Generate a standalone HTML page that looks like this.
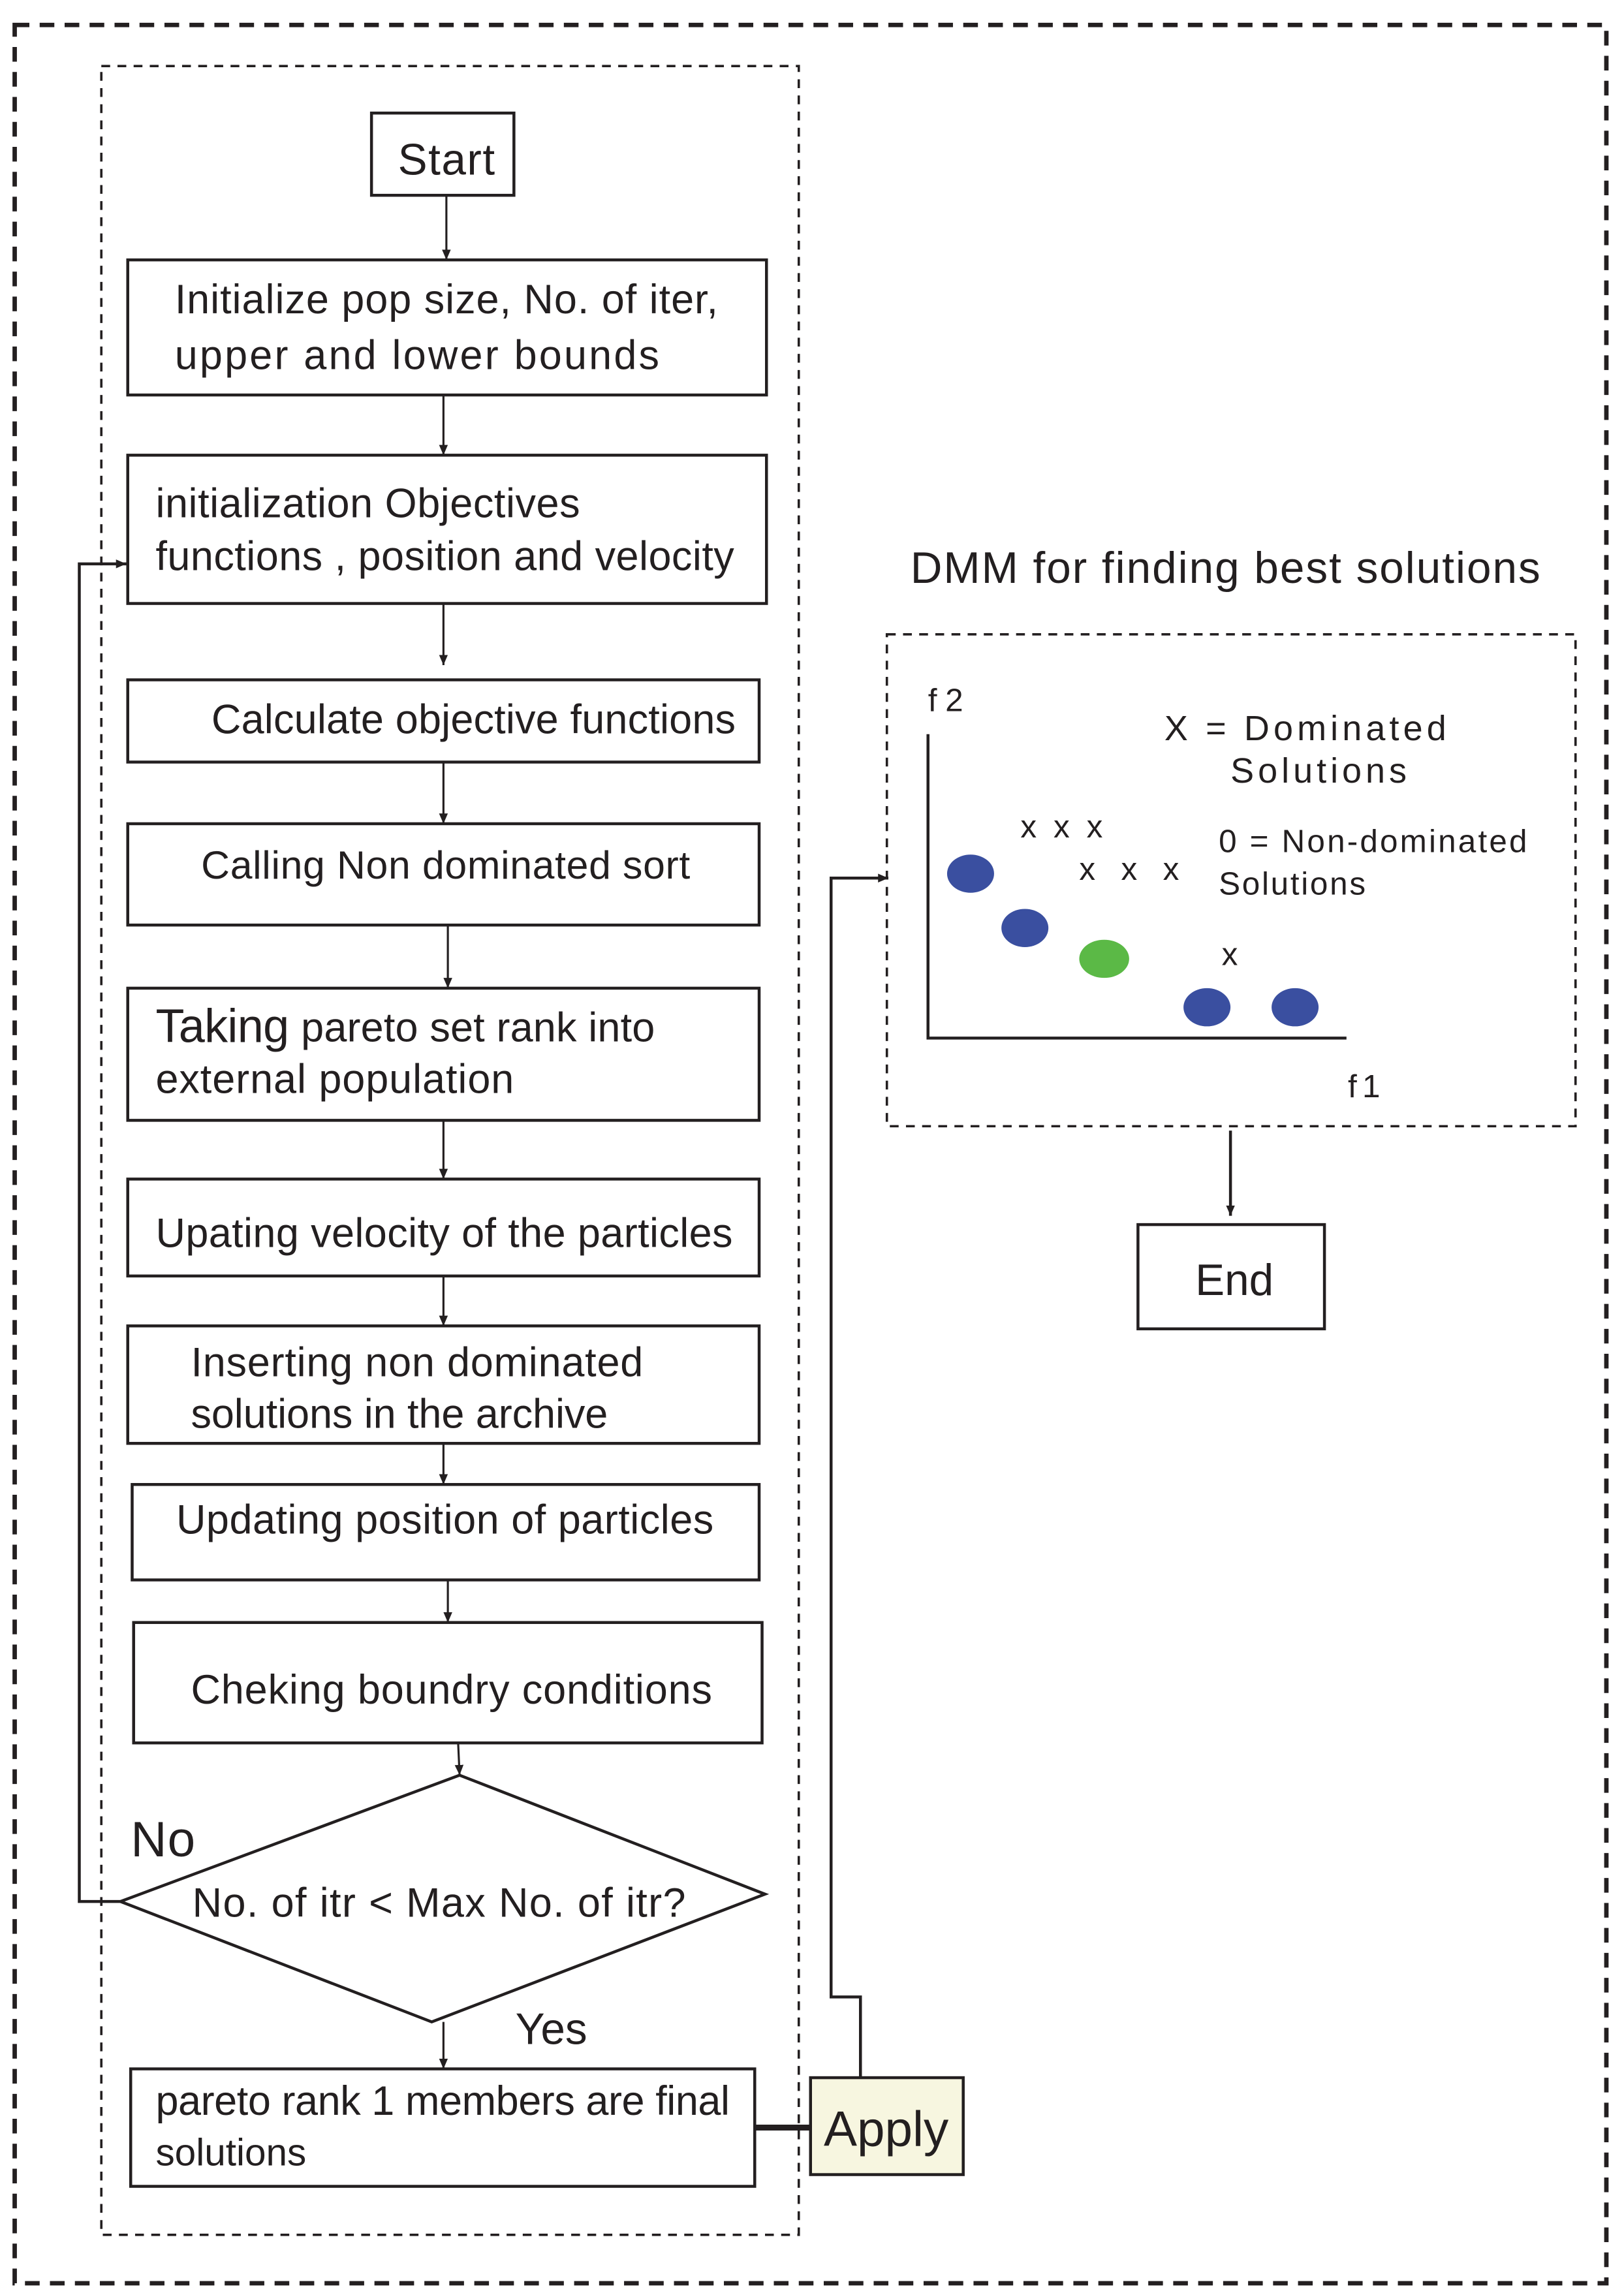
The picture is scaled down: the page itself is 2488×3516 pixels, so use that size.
<!DOCTYPE html>
<html><head><meta charset="utf-8"><style>
html,body{margin:0;padding:0;background:#fff;}
svg{display:block;}
text{font-family:"Liberation Sans Narrow","Liberation Sans",sans-serif;fill:#231f20;dominant-baseline:central;}
</style></head><body>
<svg width="2488" height="3516" viewBox="0 0 1106 1563" xmlns="http://www.w3.org/2000/svg">
<defs><marker id="a" markerWidth="8" markerHeight="8" refX="7" refY="4" orient="auto" markerUnits="userSpaceOnUse"><path d="M0,1 L7,4 L0,7 Z" fill="#231f20"/></marker></defs>
<rect width="1106" height="1563" fill="#fff"/>
<rect x="10" y="17" width="1084" height="1538" fill="none" stroke="#231f20" stroke-width="3" stroke-dasharray="10,7"/>
<rect x="69" y="45" width="475" height="1477" fill="none" stroke="#231f20" stroke-width="1.6" stroke-dasharray="6,5"/>
<g fill="none" stroke="#231f20" stroke-width="2">
<rect x="253" y="77" width="97" height="56"/>
<rect x="87" y="177" width="435" height="92"/>
<rect x="87" y="310" width="435" height="101"/>
<rect x="87" y="463" width="430" height="56"/>
<rect x="87" y="561" width="430" height="69"/>
<rect x="87" y="673" width="430" height="90"/>
<rect x="87" y="803" width="430" height="66"/>
<rect x="87" y="903" width="430" height="80"/>
<rect x="90" y="1011" width="427" height="65"/>
<rect x="91" y="1105" width="428" height="82"/>
<polygon points="313,1209 521,1290 294,1377 82,1295"/>
<rect x="89" y="1409" width="425" height="80"/>
<rect x="775" y="834" width="127" height="71"/>
</g>
<rect x="552" y="1415" width="104" height="66" fill="#f7f6e0" stroke="#231f20" stroke-width="2"/>
<g stroke="#231f20" stroke-width="1.4" fill="none" marker-end="url(#a)">
<line x1="304" y1="133" x2="304" y2="177"/>
<line x1="302" y1="269" x2="302" y2="310"/>
<line x1="302" y1="411" x2="302" y2="453"/>
<line x1="302" y1="519" x2="302" y2="561"/>
<line x1="305" y1="630" x2="305" y2="673"/>
<line x1="302" y1="763" x2="302" y2="803"/>
<line x1="302" y1="869" x2="302" y2="903"/>
<line x1="302" y1="983" x2="302" y2="1011"/>
<line x1="305" y1="1076" x2="305" y2="1105"/>
<line x1="312" y1="1187" x2="313" y2="1209"/>
<line x1="302" y1="1377" x2="302" y2="1409"/>
<line x1="838" y1="770" x2="838" y2="828" stroke-width="2"/>
</g>
<polyline points="82,1295 54,1295 54,384 86,384" fill="none" stroke="#231f20" stroke-width="2" marker-end="url(#a)"/>
<polyline points="586,1415 586,1360 566,1360 566,598 605,598" fill="none" stroke="#231f20" stroke-width="2" marker-end="url(#a)"/>
<line x1="514" y1="1449" x2="552" y2="1449" stroke="#231f20" stroke-width="4"/>
<rect x="604" y="432" width="469" height="335" fill="none" stroke="#231f20" stroke-width="1.6" stroke-dasharray="6,5"/>
<polyline points="632,500 632,707 917,707" fill="none" stroke="#231f20" stroke-width="2"/>
<g fill="#3a4fa0"><ellipse cx="661" cy="595" rx="16" ry="13"/><ellipse cx="698" cy="632" rx="16" ry="13"/><ellipse cx="822" cy="686" rx="16" ry="13"/><ellipse cx="882" cy="686" rx="16" ry="13"/></g>
<ellipse cx="752" cy="653" rx="17" ry="13" fill="#5bb946"/>
<g font-size="28" lengthAdjust="spacingAndGlyphs">
<text x="271" y="109" textLength="66" font-size="30">Start</text>
<text x="119" y="204" textLength="370">Initialize pop size, No. of iter,</text>
<text x="119" y="242" textLength="330">upper and lower  bounds</text>
<text x="106" y="343" textLength="289">initialization Objectives</text>
<text x="106" y="379" textLength="394">functions , position and velocity</text>
<text x="144" y="490" textLength="357">Calculate objective functions</text>
<text x="137" y="589" textLength="333" font-size="27">Calling Non dominated sort</text>
<text x="106" y="699" textLength="91" font-size="32">Taking</text>
<text x="205" y="700" textLength="241">pareto set rank into</text>
<text x="106" y="735" textLength="244">external population</text>
<text x="106" y="840" textLength="393">Upating velocity of the particles</text>
<text x="130" y="928" textLength="308">Inserting non dominated</text>
<text x="130" y="963" textLength="284">solutions in the archive</text>
<text x="120" y="1035" textLength="366">Updating position of particles</text>
<text x="130" y="1151" textLength="355">Cheking boundry conditions</text>
<text x="131" y="1296" textLength="336">No. of itr &lt; Max No. of itr?</text>
<text x="89" y="1253" textLength="44" font-size="34">No</text>
<text x="351" y="1382" font-size="30">Yes</text>
<text x="106" y="1431" textLength="391">pareto rank 1 members are final</text>
<text x="106" y="1466" font-size="26">solutions</text>
<text x="561" y="1450" textLength="85" font-size="34">Apply</text>
<text x="620" y="387" textLength="429" font-size="30">DMM for finding best solutions</text>
<text x="814" y="872" font-size="30">End</text>
<text x="632" y="477" textLength="24" font-size="22">f2</text>
<text x="918" y="740" textLength="22" font-size="22">f1</text>
<text x="793" y="496" textLength="192" font-size="24">X = Dominated</text>
<text x="838" y="525" textLength="120" font-size="24">Solutions</text>
<text x="695" y="563" textLength="56" font-size="22">x x x</text>
<text x="735" y="592" textLength="68" font-size="22">x  x  x</text>
<text x="832" y="650" textLength="14" font-size="22">x</text>
<text x="830" y="573" textLength="210" font-size="22">0 = Non-dominated</text>
<text x="830" y="602" textLength="100" font-size="22">Solutions</text>
</g>
</svg>
</body></html>
